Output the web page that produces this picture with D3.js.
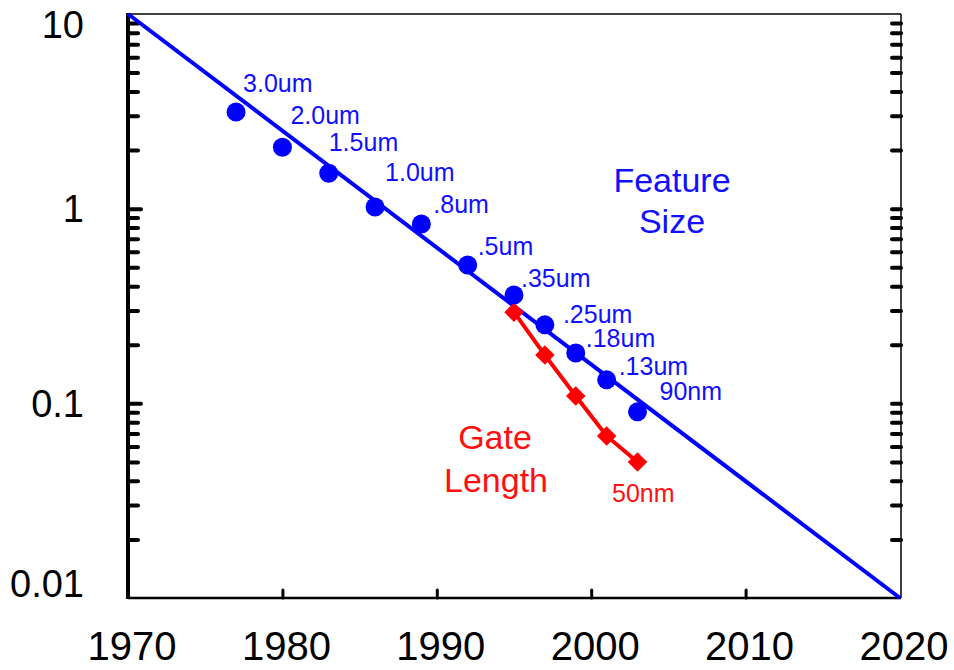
<!DOCTYPE html>
<html lang="en">
<head>
    <meta charset="utf-8">
    <title>Feature Size and Gate Length</title>
    <style>
    html, body {
        margin: 0;
        padding: 0;
        background-color: #fff;
    }
    svg text {
        font-family: "Liberation Sans", Arial, sans-serif;
    }
    .tick line {
        stroke: #000;
        stroke-width: 4;
        stroke-linecap: round;
    }
    .domain {
        display: none;
    }
    </style>
</head>
<body>
<div id="chart"></div>
<script src="https://d3js.org/d3.v7.min.js"></script>
<script>
// data
var featureYears = [1977, 1980, 1983, 1986, 1989, 1992, 1995, 1997, 1999, 2001, 2003];
var featureSize = [3.14, 2.07, 1.52, 1.02, 0.834, 0.514, 0.36, 0.253, 0.1815, 0.132, 0.0904];
var featureLabels = ["3.0um", "2.0um", "1.5um", "1.0um", ".8um", ".5um", ".35um", ".25um", ".18um", ".13um", "90nm"];
var gateYears = [1995, 1997, 1999, 2001, 2003];
var gateLength = [0.294, 0.177, 0.109, 0.068, 0.050];
var trendYears = [1970, 2020];
var trendValues = [10, 0.01];
var xTicks = [1970, 1980, 1990, 2000, 2010, 2020];
var yTicks = [10, 1, 0.1, 0.01];

// label nudges (px) from each point
var labelNudge = [[7,-20],[8,-23],[0,-22],[10,-26],[12,-11],[10,-10],[7,-8],[18,-2],[10,-6],[12,-5],[22,-12]];

var W = 954, H = 670;
var mL = 128, mR = 901, mT = 14, mB = 598;

var x = d3.scaleLinear().domain([1970, 2020]).range([mL, mR - 1]);
var y = d3.scaleLog().domain([0.01, 10]).range([mB, mT]);

var svg = d3.select("#chart").append("svg")
    .attr("width", W).attr("height", H);

// minor + major log ticks
var minorTicks = [];
[0.01, 0.1, 1].forEach(function(d) {
    for (var k = 2; k <= 9; k++) minorTicks.push(d * k);
});

svg.append("g").attr("transform", "translate(" + mL + ",0)")
    .call(d3.axisLeft(y).tickValues(minorTicks).tickSize(-10).tickFormat(""));
svg.append("g").attr("transform", "translate(" + mL + ",0)")
    .call(d3.axisLeft(y).tickValues([1, 0.1]).tickSize(-13).tickFormat(""));
svg.append("g").attr("transform", "translate(" + mR + ",0)")
    .call(d3.axisRight(y).tickValues(minorTicks.concat([1, 0.1])).tickSize(-9).tickFormat(""));
svg.append("g").attr("transform", "translate(0," + mB + ")")
    .call(d3.axisBottom(x).tickValues([1980, 1990, 2000, 2010]).tickSize(-8).tickFormat(""))
    .selectAll(".tick line").style("stroke-width", 3);

// frame
svg.append("line").attr("x1", mL).attr("x2", mR).attr("y1", mT).attr("y2", mT)
    .attr("stroke", "#000").attr("stroke-width", 1.5);
svg.append("line").attr("x1", mR).attr("x2", mR).attr("y1", mT).attr("y2", mB)
    .attr("stroke", "#000").attr("stroke-width", 1.5);
svg.append("line").attr("x1", mL).attr("x2", mR).attr("y1", mB).attr("y2", mB)
    .attr("stroke", "#000").attr("stroke-width", 2.5);
svg.append("line").attr("x1", mL).attr("x2", mL).attr("y1", mT - 1).attr("y2", mB + 1)
    .attr("stroke", "#000").attr("stroke-width", 4);

// tick labels
svg.selectAll(".xlab").data(xTicks).enter().append("text")
    .attr("x", function(d) { return x(d) + 4; })
    .attr("y", 660)
    .attr("text-anchor", "middle")
    .attr("font-size", "40px")
    .attr("fill", "#000")
    .text(function(d) { return d; });

svg.selectAll(".ylab").data(yTicks).enter().append("text")
    .attr("x", 84)
    .attr("y", function(d) { return Math.max(24, Math.min(583, y(d))); })
    .attr("dy", "0.36em")
    .attr("text-anchor", "end")
    .attr("font-size", "38px")
    .attr("fill", "#000")
    .text(function(d) { return d; });

// trend line
var trend = trendYears.map(function(d, i) { return {year: d, v: trendValues[i]}; });
var line = d3.line().x(function(d) { return x(d.year); }).y(function(d) { return y(d.v); });
svg.append("path").datum(trend)
    .attr("d", line)
    .attr("fill", "none")
    .attr("stroke", "#0000ff")
    .attr("stroke-width", 4);

// gate length series
var gate = gateYears.map(function(d, i) { return {year: d, v: gateLength[i]}; });
svg.append("path").datum(gate)
    .attr("d", line)
    .attr("fill", "none")
    .attr("stroke", "#ff0000")
    .attr("stroke-width", 4);
svg.selectAll(".gate").data(gate).enter().append("path")
    .attr("d", d3.symbol().type(d3.symbolSquare).size(190))
    .attr("transform", function(d) { return "translate(" + x(d.year) + "," + y(d.v) + ") rotate(45)"; })
    .attr("fill", "#ff0000");

// feature size points
var feat = featureYears.map(function(d, i) {
    return {year: d, v: featureSize[i], label: featureLabels[i], nudge: labelNudge[i]};
});
svg.selectAll(".feat").data(feat).enter().append("circle")
    .attr("cx", function(d) { return x(d.year); })
    .attr("cy", function(d) { return y(d.v); })
    .attr("r", 9.5)
    .attr("fill", "#0000ff");
svg.selectAll(".featlab").data(feat).enter().append("text")
    .attr("x", function(d) { return x(d.year) + d.nudge[0]; })
    .attr("y", function(d) { return y(d.v) + d.nudge[1]; })
    .attr("font-size", "25px")
    .attr("fill", "#1010ff")
    .text(function(d) { return d.label; });

// series names
svg.append("text").attr("x", 672).attr("y", 192).attr("text-anchor", "middle")
    .attr("font-size", "34px").attr("fill", "#1010ff").text("Feature");
svg.append("text").attr("x", 672).attr("y", 233).attr("text-anchor", "middle")
    .attr("font-size", "34px").attr("fill", "#1010ff").text("Size");
svg.append("text").attr("x", 495).attr("y", 449).attr("text-anchor", "middle")
    .attr("font-size", "34px").attr("fill", "#ff1010").text("Gate");
svg.append("text").attr("x", 496).attr("y", 492).attr("text-anchor", "middle")
    .attr("font-size", "34px").attr("fill", "#ff1010").text("Length");
svg.append("text").attr("x", 612).attr("y", 502)
    .attr("font-size", "25px").attr("fill", "#ff1010").text("50nm");
</script>
</body>
</html>
